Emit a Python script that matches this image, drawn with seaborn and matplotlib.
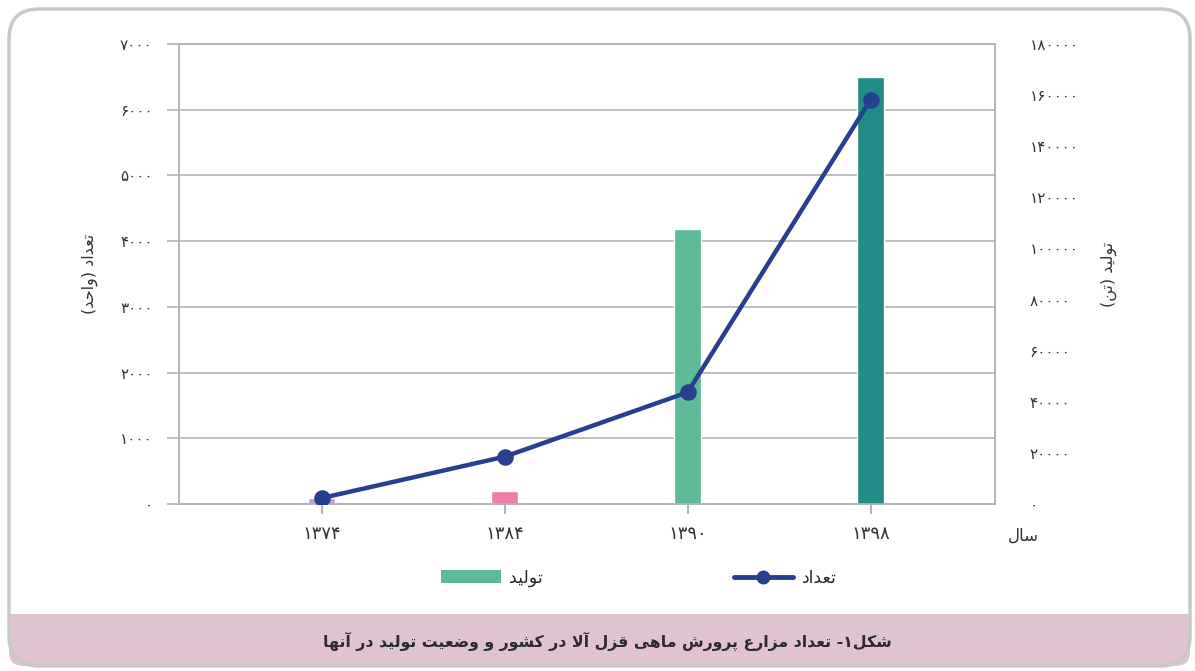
import numpy as np
import pandas as pd
import matplotlib
matplotlib.use("Agg")
import matplotlib.pyplot as plt
import seaborn as sns
from matplotlib.patches import FancyBboxPatch, Rectangle, Patch
from matplotlib.lines import Line2D

# data
years = ["۱۳۷۴", "۱۳۸۴", "۱۳۹۰", "۱۳۹۸"]
farm_counts = [90, 720, 1700, 6150]              # left axis, units
production = [2300, 5100, 107500, 167000]        # right axis, tonnes
bar_colors = ["#c49dd0", "#f07caa", "#5cba97", "#218b86"]
line_color = "#273f8e"

left_ticks = [0, 1000, 2000, 3000, 4000, 5000, 6000, 7000]
right_ticks = [0, 20000, 40000, 60000, 80000, 100000, 120000, 140000, 160000, 180000]

left_label = "تعداد (واحد)"
right_label = "تولید (تن)"
x_label = "سال"
legend_bar = "تولید"
legend_line = "تعداد"
caption = "شکل۱- تعداد مزارع پرورش ماهی قزل آلا در کشور و وضعیت تولید در آنها"

# --- minimal arabic/persian shaping (no arabic_reshaper available offline) ---
# letter: (isolated, final, initial, medial); two-form letters don't join forward
FORMS = {
    "ا": ("\uFE8D", "\uFE8E"), "آ": ("\uFE81", "\uFE82"),
    "د": ("\uFEA9", "\uFEAA"), "ر": ("\uFEAD", "\uFEAE"),
    "ز": ("\uFEAF", "\uFEB0"), "و": ("\uFEED", "\uFEEE"),
    "ب": ("\uFE8F", "\uFE90", "\uFE91", "\uFE92"),
    "پ": ("\uFB56", "\uFB57", "\uFB58", "\uFB59"),
    "ت": ("\uFE95", "\uFE96", "\uFE97", "\uFE98"),
    "ح": ("\uFEA1", "\uFEA2", "\uFEA3", "\uFEA4"),
    "س": ("\uFEB1", "\uFEB2", "\uFEB3", "\uFEB4"),
    "ش": ("\uFEB5", "\uFEB6", "\uFEB7", "\uFEB8"),
    "ض": ("\uFEBD", "\uFEBE", "\uFEBF", "\uFEC0"),
    "ع": ("\uFEC9", "\uFECA", "\uFECB", "\uFECC"),
    "ق": ("\uFED5", "\uFED6", "\uFED7", "\uFED8"),
    "ک": ("\uFB8E", "\uFB8F", "\uFB90", "\uFB91"),
    "ل": ("\uFEDD", "\uFEDE", "\uFEDF", "\uFEE0"),
    "م": ("\uFEE1", "\uFEE2", "\uFEE3", "\uFEE4"),
    "ن": ("\uFEE5", "\uFEE6", "\uFEE7", "\uFEE8"),
    "ه": ("\uFEE9", "\uFEEA", "\uFEEB", "\uFEEC"),
    "ی": ("\uFBFC", "\uFBFD", "\uFBFE", "\uFBFF"),
}
LAM_ALEF = {"ا": ("\uFEFB", "\uFEFC"), "آ": ("\uFEF5", "\uFEF6")}
MIRROR = {"(": ")", ")": "("}


def rtl(text):
    out = []
    i = 0
    prev_joins = False
    while i < len(text):
        ch = text[i]
        nxt = text[i + 1] if i + 1 < len(text) else ""
        if ch not in FORMS:
            out.append(ch)
            prev_joins = False
            i += 1
            continue
        if ch == "ل" and nxt in LAM_ALEF:
            out.append(LAM_ALEF[nxt][1 if prev_joins else 0])
            prev_joins = False
            i += 2
            continue
        forms = FORMS[ch]
        can_next = len(forms) == 4 and nxt in FORMS
        if prev_joins and can_next:
            out.append(forms[3])
        elif prev_joins:
            out.append(forms[1])
        elif can_next:
            out.append(forms[2])
        else:
            out.append(forms[0])
        prev_joins = len(forms) == 4
        i += 1
    return "".join(MIRROR.get(c, c) for c in reversed(out))


FA_DIGITS = str.maketrans("0123456789", "۰۱۲۳۴۵۶۷۸۹")


def fa_num(v):
    return str(v).translate(FA_DIGITS)


sns.set_theme(style="white")
plt.rcParams["font.family"] = ["DejaVu Sans"]

W, H = 1195, 671
fig = plt.figure(figsize=(W / 100, H / 100), dpi=100)

# background frame in pixel coordinates
bg = fig.add_axes([0, 0, 1, 1], zorder=-10)
bg.set_xlim(0, W)
bg.set_ylim(H, 0)
bg.axis("off")
bg.add_patch(FancyBboxPatch((9, 9), W - 14, H - 14, boxstyle="round,pad=0,rounding_size=30",
                            facecolor="white", edgecolor="none"))
bg.add_patch(FancyBboxPatch((9, 614), W - 14, H - 614 - 5, boxstyle="round,pad=0,rounding_size=14",
                            facecolor="#dfc3d1", edgecolor="none"))
bg.add_patch(Rectangle((9, 614), W - 14, 20, facecolor="#dfc3d1", edgecolor="none"))
bg.add_patch(FancyBboxPatch((9, 9), W - 14, H - 14, boxstyle="round,pad=0,rounding_size=30",
                            facecolor="none", edgecolor="#c8c8c8", linewidth=2.5))
bg.text(607, 641, rtl(caption), ha="center", va="center", fontsize=11.3,
        fontweight="bold", color="#2b2b2b")

rect = [179 / W, 1 - 504 / H, (995 - 179) / W, (504 - 44) / H]
grid_color = "#b3b3b3"

ax = fig.add_axes(rect)           # grid + left axis
ax2 = ax.twinx()                  # bars (right axis)
ax3 = ax.twinx()                  # line (left scale)

df = pd.DataFrame({"year": years, "count": farm_counts, "prod": production})

sns.barplot(data=df, x="year", y="prod", hue="year", palette=bar_colors,
            order=years, hue_order=years, width=0.147, legend=False,
            saturation=1, ax=ax2)
sns.pointplot(data=df, x="year", y="count", order=years, color=line_color,
              markers="o", markersize=9.5, linewidth=3.2, ax=ax3)

xlim = (-0.78, 3.68)
for a in (ax, ax2, ax3):
    a.set_xlim(*xlim)
ax.set_ylim(0, 7000)
ax3.set_ylim(0, 7000)
ax2.set_ylim(0, 180000)

# left axis
ax.set_yticks(left_ticks)
ax.set_yticklabels([fa_num(t) for t in left_ticks])
ax.yaxis.grid(True, color=grid_color, linewidth=1.2)
ax.tick_params(axis="y", length=9, width=1.2, color=grid_color, pad=10,
               labelsize=11, labelcolor="#333333")
ax.set_xticks(range(len(years)))
ax.set_xticklabels(years)
ax.tick_params(axis="x", length=7, width=1.5, color=grid_color, pad=8,
               labelsize=13, labelcolor="#333333", bottom=True)
ax.set_ylabel(rtl(left_label), fontsize=11.5, color="#333333", labelpad=16)
ax.set_xlabel("")

# right axis
ax2.set_yticks(right_ticks)
ax2.set_yticklabels([fa_num(t) for t in right_ticks])
ax2.tick_params(axis="y", length=0, pad=25, labelsize=11, labelcolor="#333333")
ax2.set_ylabel(rtl(right_label), fontsize=11.5, color="#333333", rotation=90,
               labelpad=16)
ax2.set_xlabel("")
ax2.tick_params(axis="x", bottom=False, labelbottom=False)

# line axis carries no ticks of its own
ax3.set_axis_off()
ax2.patch.set_visible(False)

for a in (ax, ax2):
    for s in a.spines.values():
        s.set_color(grid_color)
        s.set_linewidth(1.2)

fig.text(1023 / W, 1 - 536 / H, rtl(x_label), ha="center", va="center",
         fontsize=12, color="#333333")

handles = [Patch(facecolor="#5cba97", edgecolor="none"),
           Line2D([0], [0], color=line_color, linewidth=3.5, marker="o",
                  markersize=9)]
fig.legend(handles, [rtl(legend_bar), rtl(legend_line)], ncol=2,
           loc="center", bbox_to_anchor=(639 / W, 1 - 578 / H), frameon=False,
           fontsize=12.5, handlelength=3.4, handleheight=0.75, columnspacing=11,
           handletextpad=0.5)

fig.savefig("out.png", dpi=100)
